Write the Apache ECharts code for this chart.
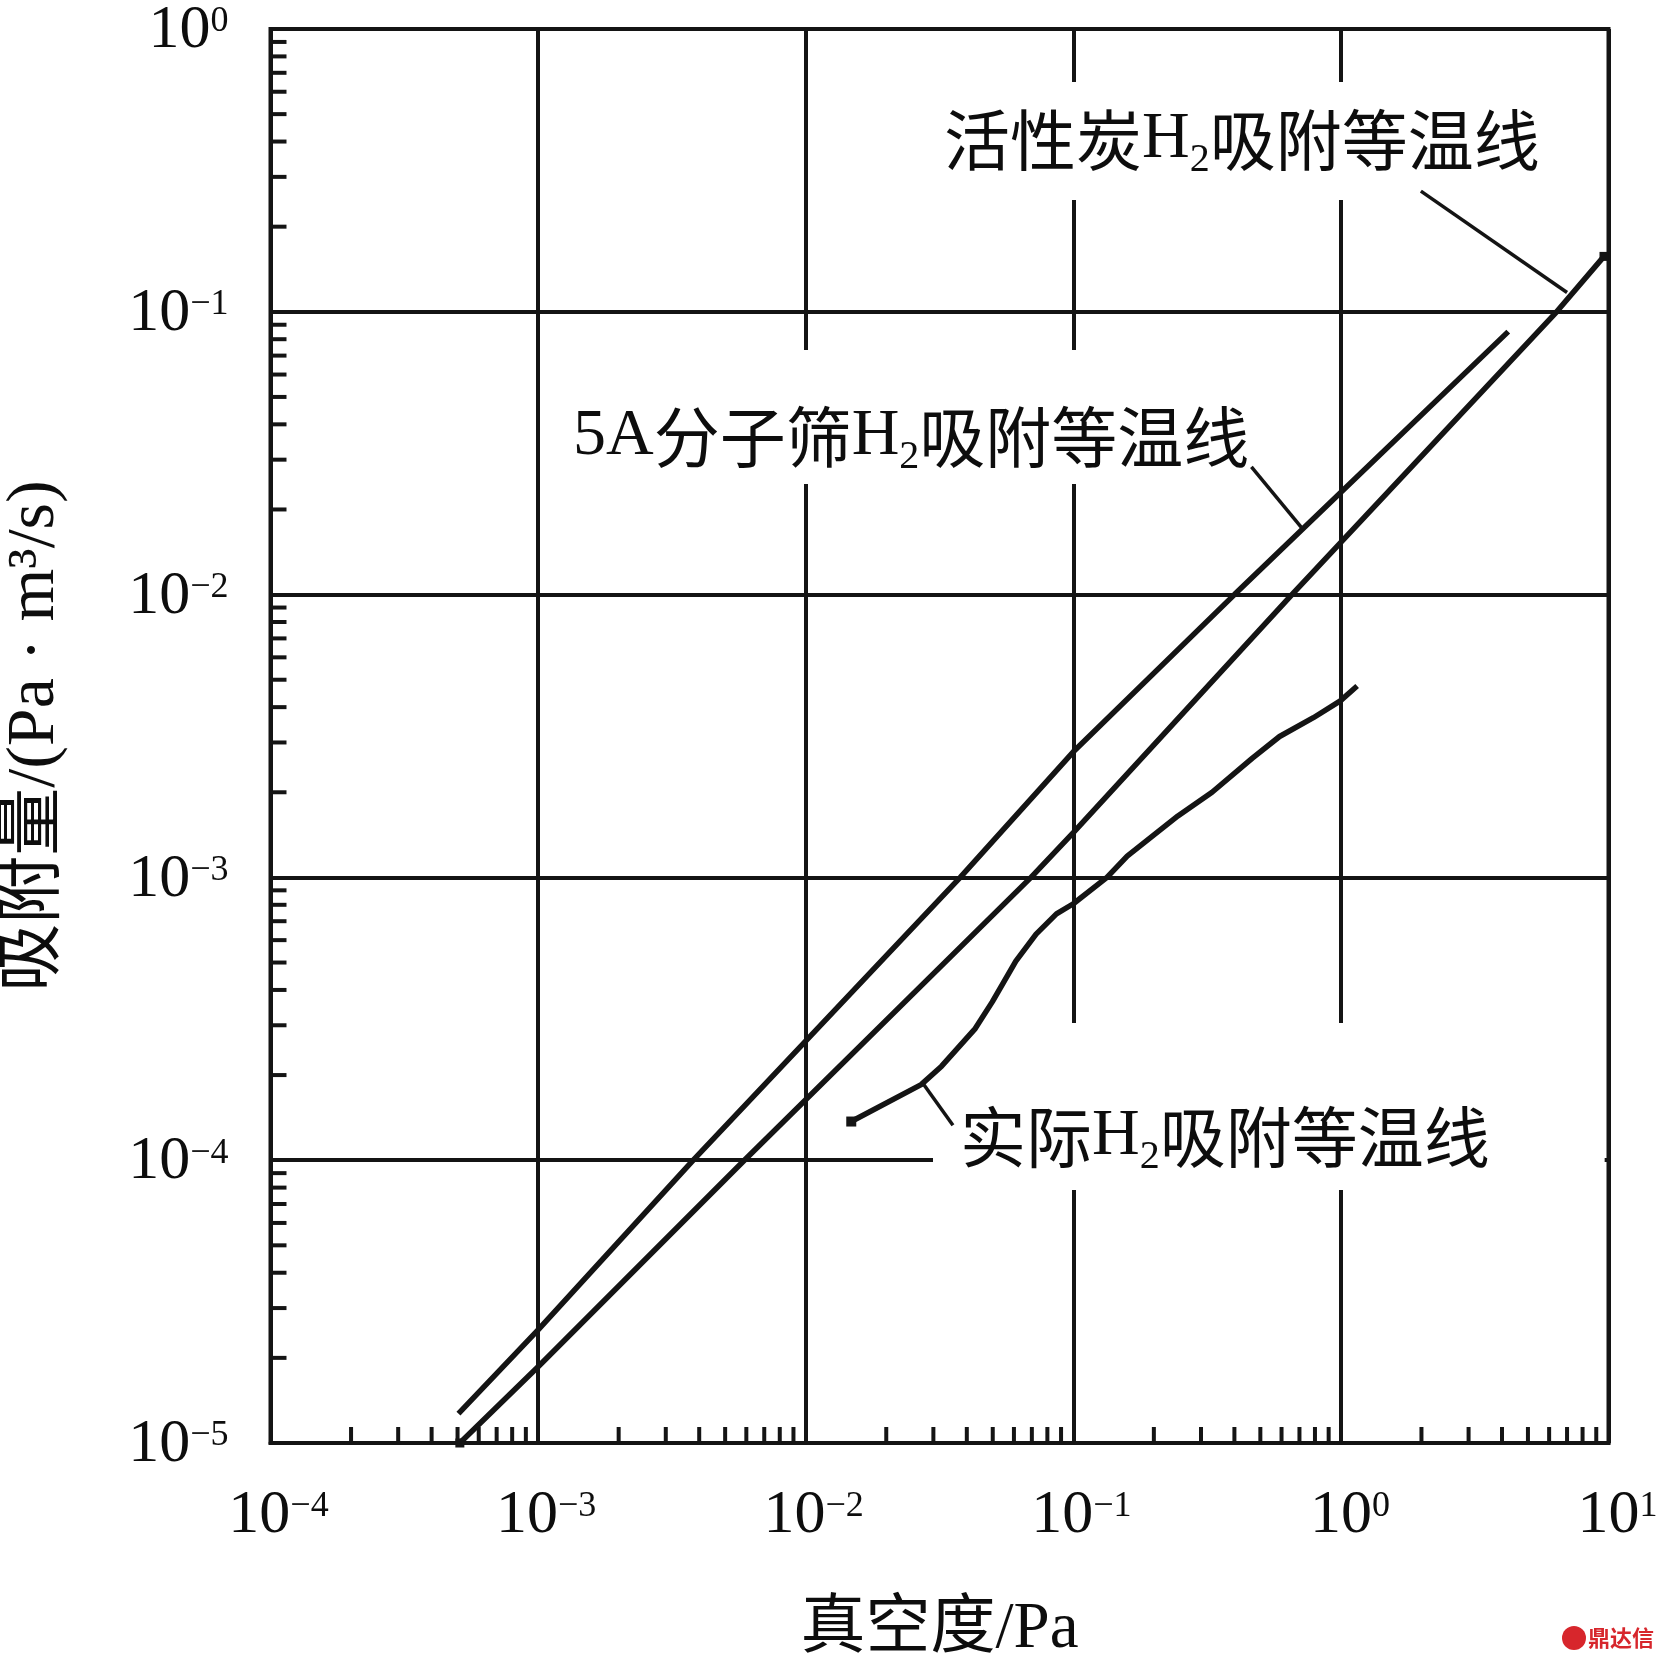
<!DOCTYPE html>
<html>
<head>
<meta charset="utf-8">
<script src="https://cdn.jsdelivr.net/npm/echarts@6/dist/echarts.min.js"></script>
<style>
html,body{margin:0;padding:0;background:#fff;}
#c{width:1663px;height:1661px;}
</style>
</head>
<body>
<div id="c"></div>
<script>
// ---- data ----
const carbonX = [5.1e-4, 1e-3, 5.9e-3, 0.0695, 0.1, 0.656, 6.4, 9.62];
const carbonY = [1.0e-5, 1.86e-5, 1e-4, 1e-3, 1.44e-3, 1e-2, 0.1, 0.157];

const sieveX = [5.04e-4, 1e-3, 3.8e-3, 0.0378, 0.1, 0.40, 4.22];
const sieveY = [1.27e-5, 2.51e-5, 1e-4, 1e-3, 2.78e-3, 1e-2, 0.0851];

const actualX = [0.0148, 0.0270, 0.0322, 0.0430, 0.0498, 0.061, 0.0726, 0.0865, 0.1, 0.1336, 0.159, 0.246, 0.330, 0.467, 0.590, 0.789, 0.995, 1.15];
const actualY = [1.37e-4, 1.85e-4, 2.15e-4, 2.92e-4, 3.63e-4, 5.06e-4, 6.3e-4, 7.43e-4, 8.07e-4, 1e-3, 1.19e-3, 1.65e-3, 2.0e-3, 2.64e-3, 3.15e-3, 3.67e-3, 4.21e-3, 4.75e-3];

// leader lines of the annotations (data coordinates)
const carbonLeaderX = [1.99, 7.0];
const carbonLeaderY = [0.267, 0.117];
const sieveLeaderX = [0.463, 0.718];
const sieveLeaderY = [0.0283, 0.0171];
const actualLeaderX = [0.0274, 0.0355];
const actualLeaderY = [1.87e-4, 1.33e-4];

const xMin = 1e-4, xMax = 10;
const yMin = 1e-5, yMax = 1;
const minorMantissas = [2, 3, 4, 5, 6, 7, 8, 9];
const xDecades = [-4, -3, -2, -1, 0];
const yDecades = [-5, -4, -3, -2, -1];

const xAxisName = '真空度/Pa';
const yAxisName = '吸附量/(Pa · m³/s)';
const carbonLabel = ['活性炭', 'H', '2', '吸附等温线'];
const sieveLabel = ['5A', '分子筛', 'H', '2', '吸附等温线'];
const actualLabel = ['实际', 'H', '2', '吸附等温线'];

// ---- styling ----
const INK = '#141414';
const TXT = '#0d0d0d';
const SERIF = 'Liberation Serif';
const CJK = 'Noto Sans CJK SC';
const MIX = "'Liberation Serif', 'Noto Sans CJK SC'";

const pair = (xs, ys) => xs.map((x, i) => [x, ys[i]]);
const expText = v => {
  const e = Math.round(Math.log10(v));
  return { e, s: e < 0 ? '\u2212' + (-e) : String(e) };
};

const xMinor = [];
xDecades.forEach(d => minorMantissas.forEach(m => xMinor.push([m * Math.pow(10, d), yMin])));
const yMinor = [];
yDecades.forEach(d => minorMantissas.forEach(m => yMinor.push([xMin, m * Math.pow(10, d)])));

const chart = echarts.init(document.getElementById('c'), null, { renderer: 'canvas' });

const labelRich = {
  t: { fontFamily: CJK, fontSize: 66, lineHeight: 66, verticalAlign: 'top', fill: TXT },
  h: { fontFamily: SERIF, fontSize: 66, lineHeight: 66, verticalAlign: 'top', fill: TXT },
  s: { fontFamily: SERIF, fontSize: 40, lineHeight: 40, verticalAlign: 'top', padding: [33, 0, 0, 0], fill: TXT }
};

function tickRender(dx, dy) {
  return function (params, api) {
    const p = api.coord([api.value(0), api.value(1)]);
    return {
      type: 'line',
      shape: { x1: p[0], y1: p[1], x2: p[0] + dx, y2: p[1] + dy },
      style: { stroke: INK, lineWidth: 4 }
    };
  };
}

const endSymbol = len => (val, params) => (params.dataIndex === 0 || params.dataIndex === len - 1) ? 9 : 0;

const option = {
  backgroundColor: '#ffffff',
  animation: false,
  grid: {
    left: 270.5, top: 29, width: 1338, height: 1414,
    show: true, borderColor: INK, borderWidth: 4, backgroundColor: 'transparent',
    containLabel: false, outerBoundsMode: 'none'
  },
  xAxis: {
    type: 'log', logBase: 10, min: xMin, max: xMax,
    name: xAxisName, nameLocation: 'middle', nameGap: 154,
    nameTextStyle: { fontFamily: MIX, fontSize: 65, lineHeight: 66, color: TXT },
    axisLine: { show: true, lineStyle: { color: INK, width: 4 } },
    axisTick: { show: false },
    minorTick: { show: false },
    splitLine: { show: true, lineStyle: { color: INK, width: 4 } },
    axisLabel: {
      show: true, margin: 40, showMinLabel: true, showMaxLabel: true,
      formatter: v => { const t = expText(v); return '{' + (t.e < 0 ? 'bn' : 'bp') + '|10}{e|' + t.s + '}'; },
      rich: {
        bn: { fontFamily: SERIF, fontSize: 62, lineHeight: 66, color: TXT, padding: [0, 0, 0, 16] },
        bp: { fontFamily: SERIF, fontSize: 62, lineHeight: 66, color: TXT, padding: [0, 0, 0, 18] },
        e: { fontFamily: SERIF, fontSize: 36, lineHeight: 36, color: TXT, verticalAlign: 'top', padding: [6, 0, 0, 0] }
      }
    }
  },
  yAxis: {
    type: 'log', logBase: 10, min: yMin, max: yMax,
    name: yAxisName, nameLocation: 'middle', nameGap: 200,
    nameTextStyle: { fontFamily: MIX, fontSize: 68, lineHeight: 70, color: TXT },
    axisLine: { show: true, lineStyle: { color: INK, width: 4 } },
    axisTick: { show: false },
    minorTick: { show: false },
    splitLine: { show: true, lineStyle: { color: INK, width: 4 } },
    axisLabel: {
      show: true, margin: 42, showMinLabel: true, showMaxLabel: true,
      formatter: v => { const t = expText(v); return '{b|10}{e|' + t.s + '}'; },
      rich: {
        b: { fontFamily: SERIF, fontSize: 62, lineHeight: 66, color: TXT, padding: [4, 0, 0, 0] },
        e: { fontFamily: SERIF, fontSize: 36, lineHeight: 36, color: TXT, verticalAlign: 'top', padding: [8, 0, 0, 0] }
      }
    }
  },
  graphic: [
    {
      type: 'text', x: 934, y: 82, z: 1,
      style: {
        text: '{t|' + carbonLabel[0] + '}{h|' + carbonLabel[1] + '}{s|' + carbonLabel[2] + '}{t|' + carbonLabel[3] + '}',
        rich: labelRich, backgroundColor: '#ffffff', padding: [25, 10, 27, 10]
      }
    },
    {
      type: 'text', x: 553, y: 350, z: 1,
      style: {
        text: '{h|' + sieveLabel[0] + '}{t|' + sieveLabel[1] + '}{h|' + sieveLabel[2] + '}{s|' + sieveLabel[3] + '}{t|' + sieveLabel[4] + '}',
        rich: labelRich, backgroundColor: '#ffffff', padding: [54, 10, 14, 20]
      }
    },
    {
      type: 'text', x: 933, y: 1023, z: 1,
      style: {
        text: '{t|' + actualLabel[0] + '}{h|' + actualLabel[1] + '}{s|' + actualLabel[2] + '}{t|' + actualLabel[3] + '}',
        rich: labelRich, backgroundColor: '#ffffff', padding: [81, 115, 20, 27]
      }
    },
    {
      type: 'circle', z: 5, shape: { cx: 1574, cy: 1638, r: 12 },
      style: { fill: '#d7262c' }
    },
    {
      type: 'text', x: 1588, y: 1638, z: 5,
      style: { text: '鼎达信', fontFamily: CJK, fontSize: 22, fontWeight: 'bold', fill: '#d7262c', verticalAlign: 'middle' }
    }
  ],
  series: [
    {
      type: 'custom', name: 'xMinorTicks', coordinateSystem: 'cartesian2d', silent: true, clip: false, z: 3,
      data: xMinor, encode: { x: 0, y: 1 }, renderItem: tickRender(0, -16)
    },
    {
      type: 'custom', name: 'yMinorTicks', coordinateSystem: 'cartesian2d', silent: true, clip: false, z: 3,
      data: yMinor, encode: { x: 0, y: 1 }, renderItem: tickRender(16, 0)
    },
    {
      type: 'line', name: '活性炭H2吸附等温线', data: pair(carbonX, carbonY), clip: false, z: 4,
      symbol: 'rect', symbolSize: endSymbol(carbonX.length), showSymbol: true,
      itemStyle: { color: INK }, lineStyle: { color: INK, width: 5.5 }
    },
    {
      type: 'line', name: '5A分子筛H2吸附等温线', data: pair(sieveX, sieveY), clip: false, z: 4,
      symbol: 'rect', symbolSize: 0, showSymbol: true,
      itemStyle: { color: INK }, lineStyle: { color: INK, width: 5.5 }
    },
    {
      type: 'line', name: '实际H2吸附等温线', data: pair(actualX, actualY), clip: false, z: 4,
      symbol: 'rect', symbolSize: (val, params) => params.dataIndex === 0 ? 10 : 0, showSymbol: true,
      itemStyle: { color: INK }, lineStyle: { color: INK, width: 5.5 }
    },
    {
      type: 'line', name: 'leader1', data: pair(carbonLeaderX, carbonLeaderY), symbol: 'none', z: 4,
      lineStyle: { color: INK, width: 3.5 }
    },
    {
      type: 'line', name: 'leader2', data: pair(sieveLeaderX, sieveLeaderY), symbol: 'none', z: 4,
      lineStyle: { color: INK, width: 3.5 }
    },
    {
      type: 'line', name: 'leader3', data: pair(actualLeaderX, actualLeaderY), symbol: 'none', z: 4,
      lineStyle: { color: INK, width: 3.5 }
    }
  ]
};

chart.setOption(option);
</script>
</body>
</html>
